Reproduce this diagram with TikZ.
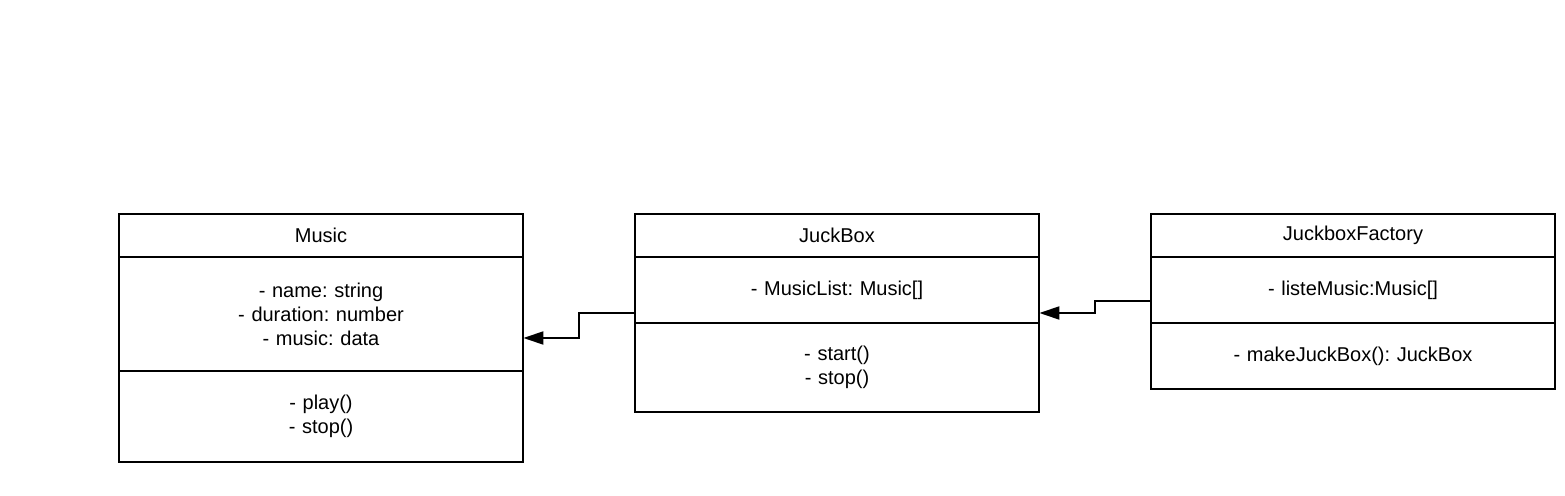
\documentclass[tikz,border=0pt]{standalone}
\usepackage{fontspec}
\setmainfont{Liberation Sans}
\usetikzlibrary{positioning,fit,calc,arrows.meta}
\frenchspacing

\begin{document}
\begin{tikzpicture}[x=0.5pt,y=-0.5pt,font=\fontsize{10}{12}\selectfont]
	\tikzset{part/.style={draw,line width=1pt,minimum width=202pt,text width=190pt,align=center,inner sep=0pt,outer sep=0pt},
		head/.style={part,minimum height=21.5pt},
		link/.style={draw,line width=1pt,-{Triangle[length=10pt,width=6.5pt]}}}
	\useasboundingbox (0,0) rectangle (1565,496);
	% Music
	\node[head,anchor=north west] (music-head) at (119,214) {Music};
	\node[part,minimum height=57pt,below=0pt of music-head] (music-attr) {- name: string\\- duration: number\\- music: data};
	\node[part,minimum height=45.5pt,below=0pt of music-attr] (music-ops) {- play()\\- stop()};
	\node[fit=(music-head)(music-ops),inner sep=0pt] (music) {};
	% JuckBox
	\node[head,right=56pt of music-head] (jb-head) {JuckBox};
	\node[part,minimum height=33pt,below=0pt of jb-head] (jb-attr) {- MusicList: Music[]};
	\node[part,minimum height=44.5pt,below=0pt of jb-attr] (jb-ops) {- start()\\- stop()};
	\node[fit=(jb-head)(jb-ops),inner sep=0pt] (jb) {};
	% JuckboxFactory
	\node[head,right=56pt of jb-head] (fac-head) {JuckboxFactory};
	\node[part,minimum height=33pt,below=0pt of fac-head] (fac-attr) {- listeMusic:Music[]};
	\node[part,minimum height=33pt,below=0pt of fac-attr] (fac-ops) {- makeJuckBox(): JuckBox};
	\node[fit=(fac-head)(fac-ops),inner sep=0pt] (fac) {};
	% links
	\draw[link] (jb.west) -| ($(jb.west)!0.5!(music.east)$) |- (music.east);
	\draw[link] (fac.west) -| ($(fac.west)!0.5!(jb.east)$) |- (jb.east);
\end{tikzpicture}
\end{document}
